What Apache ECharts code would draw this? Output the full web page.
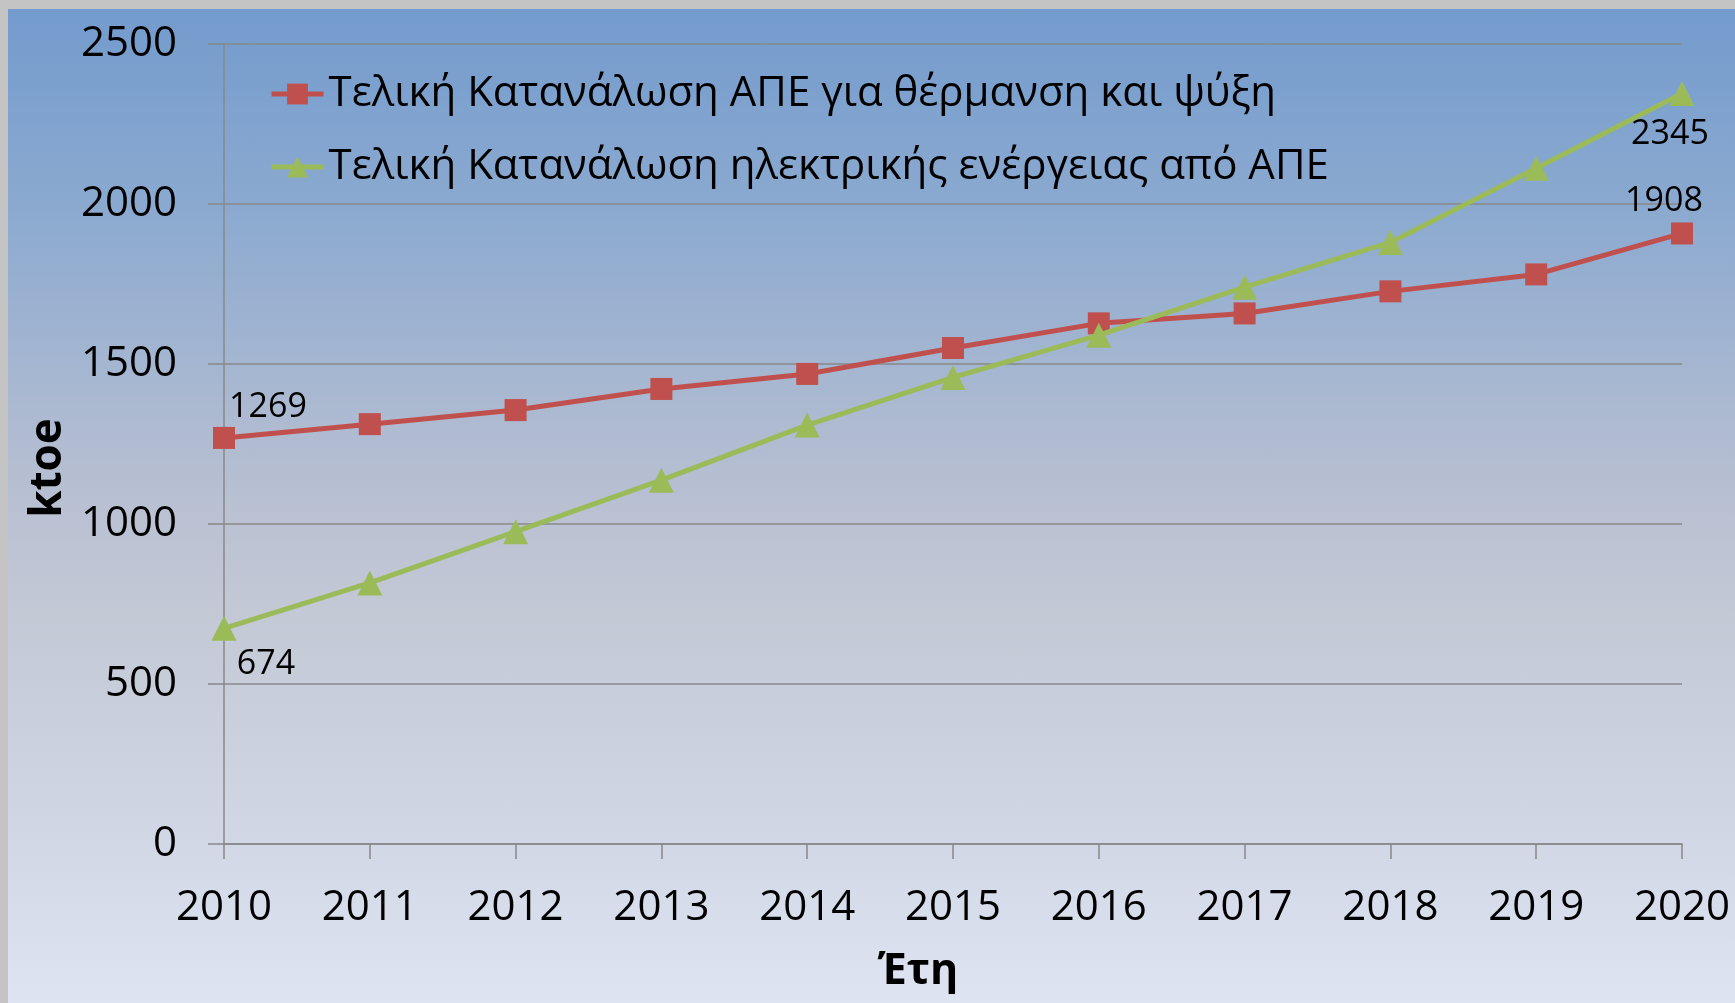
<!DOCTYPE html>
<html>
<head>
<meta charset="utf-8">
<script src="https://cdn.jsdelivr.net/npm/echarts@6/dist/echarts.min.js"></script>
<style>
  html, body { margin: 0; padding: 0; background: #c4c4c4; width: 1735px; height: 1003px; overflow: hidden; }
  #chart {
    position: absolute; left: 8px; top: 9px; width: 1727px; height: 994px;
    background: linear-gradient(to bottom, #739bcd 0%, #8eabd0 22%, #b3bdd1 45%, #c3c8d5 60%, #d0d6e3 82%, #dee4f2 100%);
  }
</style>
</head>
<body>
<div id="chart"></div>
<script>
const years = ['2010','2011','2012','2013','2014','2015','2016','2017','2018','2019','2020'];
const heatCool = [1269, 1312, 1356, 1422, 1469, 1550, 1627, 1658, 1727, 1780, 1908];
const electricity = [674, 816, 976, 1137, 1309, 1458, 1590, 1740, 1880, 2112, 2345];
const seriesNames = ['Τελική Κατανάλωση ΑΠΕ για θέρμανση και ψύξη', 'Τελική Κατανάλωση ηλεκτρικής ενέργειας από ΑΠΕ'];
const yTicks = { min: 0, max: 2500, interval: 500 };
const xTitle = 'Έτη';
const yTitle = 'ktoe';

const FONT = '"Open Sans", "Noto Sans", sans-serif';

function withEndLabels(values, firstOffset, lastOffset) {
  return values.map((v, i) => {
    if (i === 0 || i === values.length - 1) {
      return {
        value: v,
        label: {
          show: true,
          position: 'inside',
          offset: i === 0 ? firstOffset : lastOffset,
          formatter: '{c}',
          color: '#000',
          fontSize: 34,
          fontFamily: FONT
        }
      };
    }
    return v;
  });
}

const chart = echarts.init(document.getElementById('chart'), null, { renderer: 'canvas' });
chart.setOption({
  backgroundColor: 'transparent',
  animation: false,
  grid: { left: 216, top: 35, width: 1458, height: 800, containLabel: false, outerBoundsMode: 'none' },
  legend: {
    orient: 'vertical',
    left: 256,
    top: 58,
    itemWidth: 52,
    itemHeight: 26,
    itemGap: 29,
    lineStyle: { width: 5 },
    textStyle: { fontSize: 42, fontFamily: FONT, color: '#000', lineHeight: 44 },
    data: seriesNames
  },
  xAxis: {
    type: 'category',
    data: years,
    boundaryGap: false,
    name: xTitle,
    nameLocation: 'middle',
    nameGap: 106,
    nameTextStyle: { fontSize: 43, fontWeight: 'bold', fontFamily: FONT, color: '#000', padding: [0, 70, 0, 0] },
    axisLine: { show: true, lineStyle: { color: '#888', width: 1.5 } },
    axisTick: { show: true, length: 15, alignWithLabel: true, lineStyle: { color: '#888', width: 1.5 } },
    axisLabel: { fontSize: 42, fontFamily: FONT, color: '#000', margin: 43, interval: 0 },
    splitLine: { show: false }
  },
  yAxis: {
    type: 'value',
    min: yTicks.min,
    max: yTicks.max,
    interval: yTicks.interval,
    name: yTitle,
    nameLocation: 'middle',
    nameGap: 148,
    nameRotate: 90,
    nameTextStyle: { fontSize: 44, fontWeight: 'bold', fontFamily: FONT, color: '#000', padding: [0, 48, 0, 0] },
    axisLine: { show: true, lineStyle: { color: '#888', width: 1.5 } },
    axisTick: { show: true, length: 16, lineStyle: { color: '#888', width: 1.5 } },
    axisLabel: { fontSize: 42, fontFamily: FONT, color: '#000', margin: 47, formatter: v => String(v) },
    splitLine: { show: true, lineStyle: { color: '#888', width: 1.5 } }
  },
  series: [
    {
      name: seriesNames[0],
      type: 'line',
      data: withEndLabels(heatCool, [44, -31], [-18, -32]),
      symbol: 'rect',
      symbolSize: 22,
      lineStyle: { color: '#C0504D', width: 5 },
      itemStyle: { color: '#C0504D' },
      z: 3
    },
    {
      name: seriesNames[1],
      type: 'line',
      data: withEndLabels(electricity, [42, 36], [-12, 41]),
      symbol: 'triangle',
      symbolSize: 25,
      lineStyle: { color: '#9BBB59', width: 5 },
      itemStyle: { color: '#9BBB59' },
      z: 4
    }
  ]
});
</script>
</body>
</html>
